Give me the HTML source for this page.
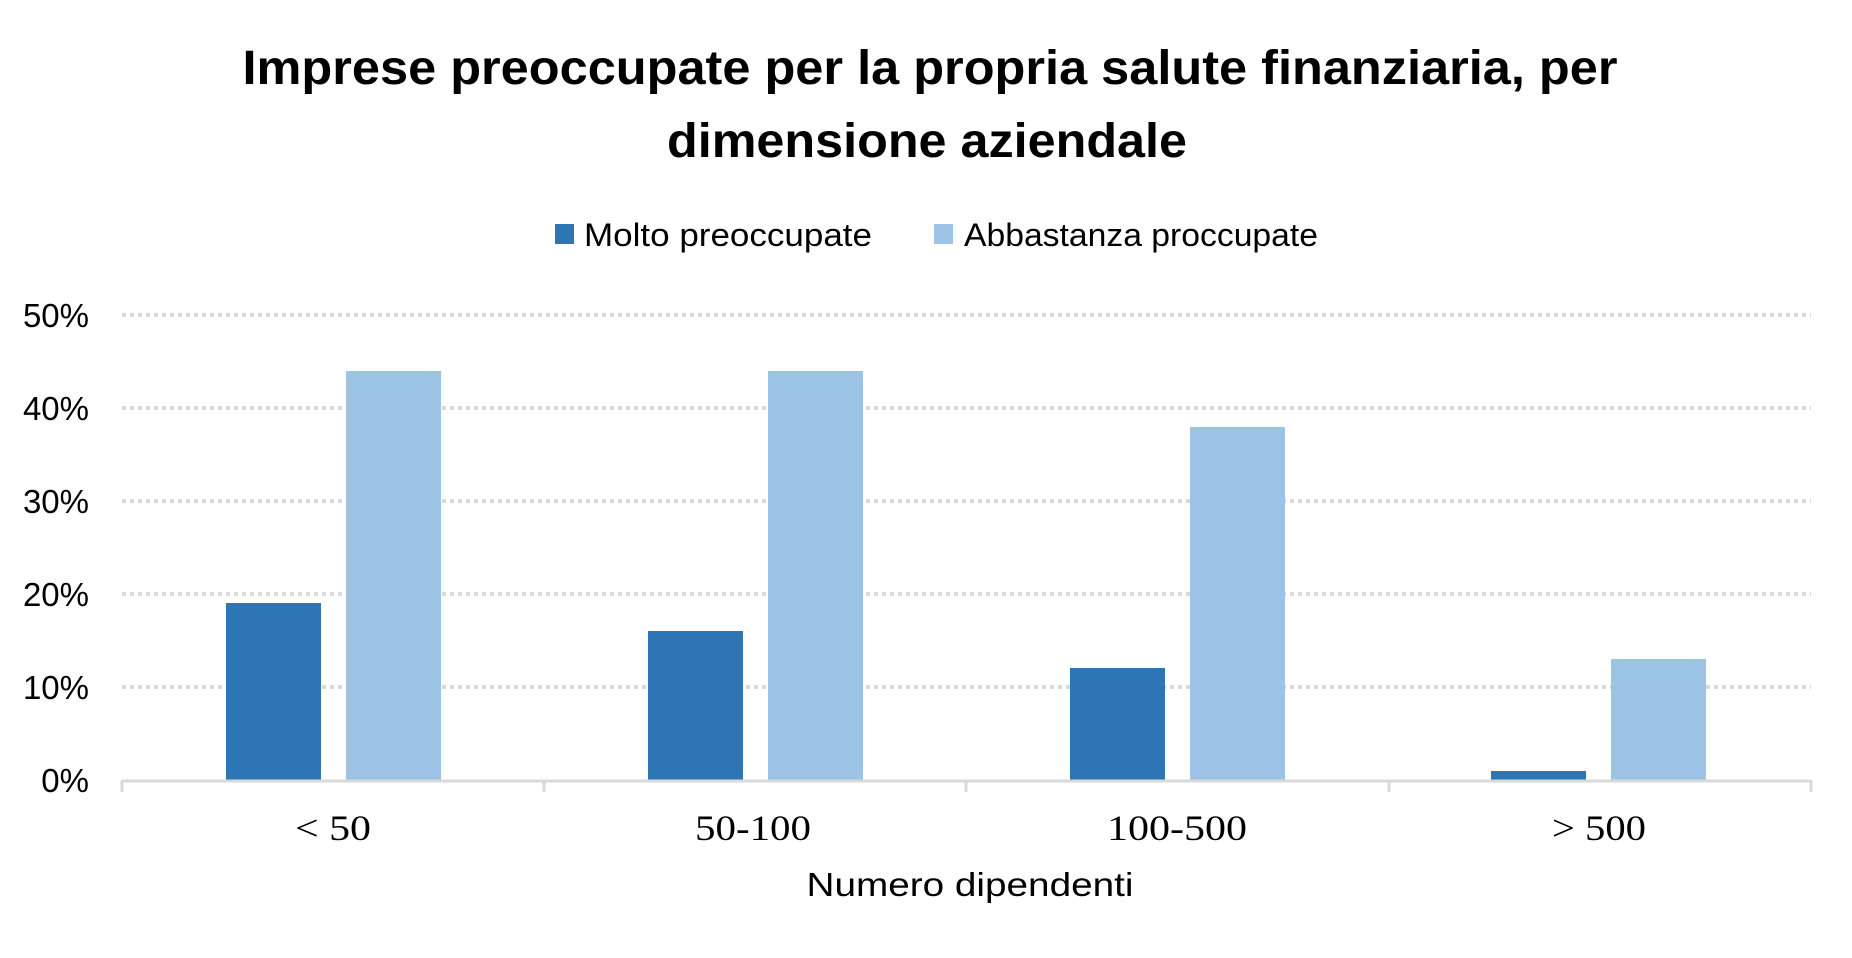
<!DOCTYPE html>
<html><head><meta charset="utf-8"><style>html,body{margin:0;padding:0;background:#fff}svg{display:block}</style></head>
<body>
<svg width="1852" height="958" xmlns="http://www.w3.org/2000/svg" font-family="Liberation Sans, sans-serif">
<rect width="1852" height="958" fill="#fff"/>
<text x="930" y="84" text-anchor="middle" font-weight="bold" font-size="48" textLength="1375" lengthAdjust="spacingAndGlyphs">Imprese preoccupate per la propria salute finanziaria, per</text>
<text x="927" y="157" text-anchor="middle" font-weight="bold" font-size="48" textLength="520" lengthAdjust="spacingAndGlyphs">dimensione aziendale</text>
<rect x="555" y="224" width="19" height="20" fill="#2e75b6"/>
<text x="584" y="246" font-size="32" textLength="288" lengthAdjust="spacingAndGlyphs">Molto preoccupate</text>
<rect x="934" y="224" width="19" height="20" fill="#9dc3e6"/>
<text x="964" y="246" font-size="32" textLength="354" lengthAdjust="spacingAndGlyphs">Abbastanza proccupate</text>
<g stroke="#d9d9d9" stroke-width="4" stroke-dasharray="4 4">
<line x1="122" y1="315" x2="1811" y2="315"/>
<line x1="122" y1="408" x2="1811" y2="408"/>
<line x1="122" y1="501" x2="1811" y2="501"/>
<line x1="122" y1="594" x2="1811" y2="594"/>
<line x1="122" y1="687" x2="1811" y2="687"/>
</g>
<g font-size="33" text-anchor="end">
<text x="89" y="327">50%</text><text x="89" y="420">40%</text><text x="89" y="513">30%</text>
<text x="89" y="606">20%</text><text x="89" y="699">10%</text><text x="89" y="792">0%</text>
</g>
<g fill="#2e75b6">
<rect x="226" y="603" width="95" height="177"/>
<rect x="648" y="631" width="95" height="149"/>
<rect x="1070" y="668" width="95" height="112"/>
<rect x="1491" y="771" width="95" height="9"/>
</g>
<g fill="#9dc3e6">
<rect x="346" y="371" width="95" height="409"/>
<rect x="768" y="371" width="95" height="409"/>
<rect x="1190" y="427" width="95" height="353"/>
<rect x="1611" y="659" width="95" height="121"/>
</g>
<g stroke="#d9d9d9" stroke-width="3">
<line x1="122" y1="781" x2="1811" y2="781"/>
<line x1="122" y1="780" x2="122" y2="792"/>
<line x1="544" y1="780" x2="544" y2="792"/>
<line x1="966" y1="780" x2="966" y2="792"/>
<line x1="1389" y1="780" x2="1389" y2="792"/>
<line x1="1811" y1="780" x2="1811" y2="792"/>
</g>
<g font-family="Liberation Serif, serif" font-size="36" text-anchor="middle">
<text x="333" y="840" textLength="76" lengthAdjust="spacingAndGlyphs">&lt; 50</text>
<text x="753" y="840" textLength="116" lengthAdjust="spacingAndGlyphs">50-100</text>
<text x="1177" y="840" textLength="140" lengthAdjust="spacingAndGlyphs">100-500</text>
<text x="1599" y="840" textLength="94" lengthAdjust="spacingAndGlyphs">&gt; 500</text>
</g>
<text x="970" y="896" text-anchor="middle" font-size="33" textLength="327" lengthAdjust="spacingAndGlyphs">Numero dipendenti</text>
</svg>
</body></html>
